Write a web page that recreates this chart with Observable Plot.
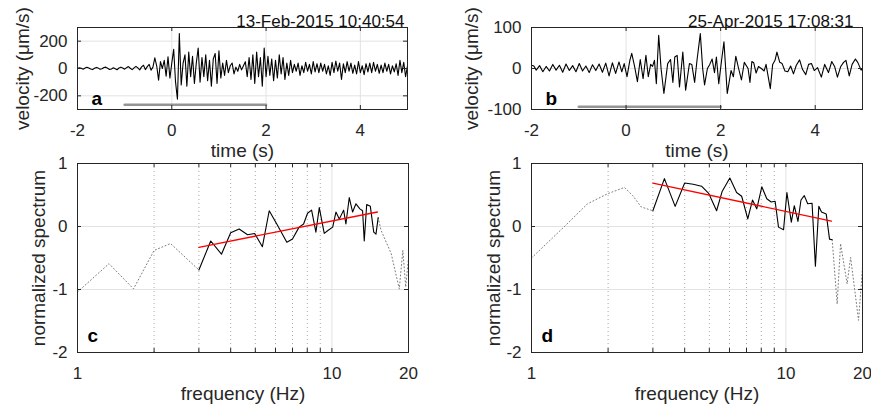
<!DOCTYPE html>
<html><head><meta charset="utf-8">
<script src="https://cdn.jsdelivr.net/npm/d3@7"></script>
<script src="https://cdn.jsdelivr.net/npm/@observablehq/plot@0.6"></script>
<style>
html,body{margin:0;padding:0;background:#fff;}
#wrap{position:relative;width:871px;height:410px;overflow:hidden;background:#fff;}
#wrap svg{position:absolute;}
</style></head><body><div id="wrap"></div>
<script>
// ---------- panel a : waveform, 13-Feb-2015 (sampled every 0.04 s from -2 s) ----------
const velA = [
  0, 6, 2, -5, 3, 9, 4, -4, -8, 2, 8, 3, -6, -2, 7, 10, 2, -7, -3, 5,
  -2, -9, 4, 10, 3, -5, 6, 14, 2, -8, 5, 16, 4, -10, 12, 24, -8, 14, 30, -12,
  10, 78, 20, -85, 50, 0, 60, -57, 85, -70, 40, 140, -100, -225, 255, -120, 40, 100, -130, 120,
  -60, 90, -110, 40, 150, -100, 80, -60, 100, -90, 60, -130, 70, 110, -110, 130, -70, 40, -50, 60,
  -30, 20, 40, -40, 10, -20, 30, -10, 20, 50, -60, 80, -80, 100, -110, 120, -60, 80, -130, 150,
  -60, 90, -50, 70, -90, 60, -70, 100, -40, 80, -80, 40, -50, 60, -30, 30, -20, 40, -50, 20,
  -30, 45, -20, 30, -40, 50, -25, 35, -30, 40, -20, 30, -40, 20, -50, 45, -30, 55, -20, 40,
  -80, 35, -30, 50, -20, 40, -35, 25, -40, 50, -30, 20, -45, 35, -25, 40, -30, 45, -20, 30,
  -35, 25, -30, 40, -20, 30, -40, 20, -25, 35, -50, 60, -30, 45, -60, 20
];
const sampleStepA = 0.04;
const timeA = velA.map((_, i) => -2 + i * sampleStepA);

// ---------- panel b : waveform, 25-Apr-2015 ----------
const timeB = [-2.00,-1.95,-1.90,-1.83,-1.76,-1.69,-1.62,-1.55,-1.48,-1.41,-1.34,-1.27,-1.20,-1.13,-1.06,-0.99,-0.92,-0.85,-0.78,-0.71,
  -0.64,-0.57,-0.50,-0.43,-0.36,-0.29,-0.22,-0.15,-0.09,-0.04,0.02,0.08,0.12,0.18,0.24,0.30,0.36,0.42,0.47,0.52,
  0.56,0.60,0.64,0.69,0.74,0.80,0.88,0.94,0.99,1.03,1.08,1.13,1.20,1.26,1.30,1.34,1.39,1.45,1.50,1.57,
  1.62,1.66,1.72,1.77,1.82,1.87,1.91,1.96,2.02,2.07,2.14,2.22,2.27,2.32,2.38,2.44,2.50,2.58,2.62,2.66,
  2.70,2.75,2.80,2.86,2.92,2.96,3.05,3.10,3.15,3.19,3.25,3.30,3.36,3.42,3.48,3.54,3.60,3.67,3.73,3.80,
  3.86,3.92,3.98,4.05,4.13,4.20,4.28,4.35,4.41,4.47,4.54,4.60,4.65,4.72,4.78,4.85,4.90,4.97,5.00];
const velB = [8,6,-4,7,-8,5,-6,10,-4,8,-9,11,-5,7,-8,12,-6,6,-10,9,
  -5,11,-9,13,-18,14,-12,16,-8,12,-20,20,37,5,-32,22,-25,32,-20,10,
  5,20,-37,81,0,-61,12,22,-34,28,32,-45,40,-53,-20,12,10,-34,20,85,
  0,-40,0,10,23,-10,28,-37,20,65,-61,-5,-20,30,0,-28,15,0,-34,17,
  14,-11,5,0,-6,10,-49,10,20,40,15,12,-6,-8,6,-13,8,21,-2,-15,
  10,12,-5,2,-21,10,-10,17,5,-21,5,15,20,-18,10,23,15,-4,0];

// analysis window (grey bar)
const windowTime = [-1, 2];
const windowLevelA = [-265, -265];
const windowLevelB = [-93, -93];

// ---------- panel c : spectrum ----------
const freqCLow = [1, 1.33, 1.66, 2.0, 2.32, 3.0];
const specCLow = [-1.04, -0.59, -0.99, -0.38, -0.27, -0.69];
const freqC = [3.0,3.34,3.68,4.0,4.32,4.66,4.97,5.33,5.67,6.11,6.65,7.0,7.43,7.74,8.02,8.32,8.65,8.92,9.33,9.67,10.07,10.37,10.69,11.12,11.35,11.7,12.06,12.43,12.88,13.2,13.4,13.7,14.16,14.6,14.9,15.2];
const specC = [-0.69,-0.23,-0.44,-0.10,-0.04,-0.13,-0.11,-0.32,0.25,0.02,-0.25,-0.20,-0.01,0.04,0.21,0.26,-0.09,0.30,-0.11,-0.06,-0.01,0.23,0.12,0.26,0.04,0.46,0.23,0.36,0.28,0.25,-0.23,0.35,0.32,-0.09,-0.12,0.14];
const freqCHigh = [15.2, 15.6, 17.1, 18.4, 19.0, 19.5, 20];
const specCHigh = [0.14, -0.06, -0.43, -0.99, -0.38, -0.96, -0.5];

// ---------- panel d : spectrum ----------
const freqDLow = [1, 1.34, 1.66, 1.99, 2.32, 2.5, 2.7, 3.0];
const specDLow = [-0.5, -0.01, 0.36, 0.52, 0.62, 0.49, 0.31, 0.25];
const freqD = [3.0,3.33,3.67,4.0,4.32,4.66,4.98,5.34,5.62,6.02,6.4,6.7,7.08,7.39,7.68,8.04,8.41,8.75,9.07,9.35,9.79,10.09,10.5,10.79,11.15,11.46,11.81,12.18,12.67,13.06,13.47,13.8,14.4,14.84,15.2];
const specD = [0.25,0.76,0.32,0.69,0.67,0.64,0.52,0.25,0.56,0.77,0.54,0.48,0.12,0.42,0.28,0.63,0.44,0.39,0.40,-0.01,-0.05,0.54,0.07,0.33,0.08,0.42,0.49,0.36,0.37,-0.63,0.32,0.23,0.20,-0.20,-0.21];
const freqDHigh = [15.2, 15.9, 16.4, 17.4, 17.96, 19.3, 20];
const specDHigh = [-0.21, -1.23, -0.27, -0.91, -0.49, -1.49, -0.65];

// fitted lines (straight in log-frequency)
const fitFreq = [3, 15.1];
const fitC = [-0.33, 0.23];
const fitD = [0.69, 0.085];

// ticks & labels
const timeTicks = [-2, 0, 2, 4];
const velTicksA = [-200, 0, 200];
const velTicksB = [-100, 0, 100];
const specTicks = [-2, -1, 0, 1];
const freqLabels = [1, 10, 20];
const freqMinor = [2, 3, 4, 5, 6, 7, 8, 9];
const dateA = "13-Feb-2015 10:40:54";
const dateB = "25-Apr-2015 17:08:31";

// ---------- drawing ----------
const FONT = '"Liberation Sans", Arial, Helvetica, sans-serif';
const INK = "#262626";
const GRID = "#e2e2e2";
const wrap = document.getElementById("wrap");
const fmt = d => String(d);

function panel(cfg) {
  const {left, top, width, height, ml, mr, mt, mb} = cfg;
  const fw = width - ml - mr, fh = height - mt - mb, TL = 4;
  const marks = [
    Plot.ruleX(cfg.xGrid, {x: d => d, stroke: GRID}),
    Plot.ruleY(cfg.yGrid, {y: d => d, stroke: GRID})
  ];
  if (cfg.xMinor) marks.push(Plot.ruleX(cfg.xMinor, {x: d => d, stroke: "#a8a8a8", strokeDasharray: "1,3"}));
  marks.push(...cfg.data);
  const xt = cfg.xTickMarks, yt = cfg.yTickMarks;
  marks.push(
    Plot.tickX(xt, {x: d => d, stroke: INK, insetTop: fh - TL}),
    Plot.tickX(xt, {x: d => d, stroke: INK, insetBottom: fh - TL}),
    Plot.tickY(yt, {y: d => d, stroke: INK, insetRight: fw - TL}),
    Plot.tickY(yt, {y: d => d, stroke: INK, insetLeft: fw - TL}),
    Plot.frame({stroke: INK}),
    Plot.axisX({ticks: cfg.xLabels, tickSize: 0, tickPadding: 14, tickFormat: fmt, fontSize: 17, label: null, fill: INK}),
    Plot.axisY({ticks: yt, tickSize: 0, tickPadding: 10, tickFormat: fmt, fontSize: 17, label: null, fill: INK}),
    Plot.text([cfg.xTitle], {text: d => d, frameAnchor: "bottom", textAnchor: "middle", lineAnchor: "top", dy: 34, fontSize: 19, fill: INK}),
    Plot.text([cfg.yTitle], {text: d => d, frameAnchor: "left", textAnchor: "middle", lineAnchor: "bottom", rotate: -90, dx: cfg.yTitleDx, fontSize: 19, fill: INK}),
    Plot.text([cfg.letter], {text: d => d, frameAnchor: "bottom-left", textAnchor: "start", lineAnchor: "bottom", dx: cfg.letterDx, dy: cfg.letterDy, fontSize: 19, fontWeight: "bold", fill: "#000"})
  );
  if (cfg.date) marks.push(Plot.text([cfg.date], {text: d => d, frameAnchor: "top-right", textAnchor: "end", lineAnchor: "bottom", dx: cfg.dateDx, dy: -1, fontSize: 17, fill: "#111"}));
  const svg = Plot.plot({
    width, height, marginLeft: ml, marginRight: mr, marginTop: mt, marginBottom: mb,
    x: cfg.x, y: cfg.y,
    style: {fontFamily: FONT, background: "none", overflow: "visible", color: INK},
    marks
  });
  svg.style.left = left + "px";
  svg.style.top = top + "px";
  wrap.appendChild(svg);
}

const blackLine = (xs, ys) => Plot.line(xs, {x: xs, y: ys, stroke: "#000", strokeWidth: 1.1});
const dotLine = (xs, ys) => Plot.line(xs, {x: xs, y: ys, stroke: "#7a7a7a", strokeWidth: 1, strokeDasharray: "1,2.5"});
const redLine = (xs, ys) => Plot.line(xs, {x: xs, y: ys, stroke: "#ff0000", strokeWidth: 1.3});
const greyBar = (xs, ys) => Plot.line(xs, {x: xs, y: ys, stroke: "#949494", strokeWidth: 2.5});

panel({
  left: 0, top: 0, width: 440, height: 165, ml: 77, mr: 33, mt: 27, mb: 56,
  x: {domain: [-2, 5]}, y: {domain: [-300, 300]},
  xGrid: [0, 2, 4], yGrid: velTicksA, xTickMarks: timeTicks, yTickMarks: velTicksA, xLabels: timeTicks,
  data: [blackLine(timeA, velA), greyBar(windowTime, windowLevelA)],
  xTitle: "time (s)", yTitle: "velocity (μm/s)", yTitleDx: -49,
  letter: "a", letterDx: 14, letterDy: -5, date: dateA, dateDx: -3
});
panel({
  left: 440, top: 0, width: 431, height: 165, ml: 91, mr: 9, mt: 27, mb: 56,
  x: {domain: [-2, 5]}, y: {domain: [-100, 100]},
  xGrid: [0, 2, 4], yGrid: [0], xTickMarks: timeTicks, yTickMarks: velTicksB, xLabels: timeTicks,
  data: [blackLine(timeB, velB), greyBar(windowTime, windowLevelB)],
  xTitle: "time (s)", yTitle: "velocity (μm/s)", yTitleDx: -54,
  letter: "b", letterDx: 14, letterDy: -5, date: dateB, dateDx: -9
});
panel({
  left: 0, top: 150, width: 440, height: 260, ml: 77, mr: 32, mt: 13, mb: 58,
  x: {type: "log", domain: [1, 20]}, y: {domain: [-2, 1]},
  xGrid: [10], yGrid: [0, -1], xMinor: freqMinor, xTickMarks: [...freqMinor, 10, 20], yTickMarks: specTicks, xLabels: freqLabels,
  data: [dotLine(freqCLow, specCLow), dotLine(freqCHigh, specCHigh), blackLine(freqC, specC), redLine(fitFreq, fitC)],
  xTitle: "frequency (Hz)", yTitle: "normalized spectrum", yTitleDx: -33,
  letter: "c", letterDx: 10, letterDy: -11
});
panel({
  left: 440, top: 150, width: 431, height: 260, ml: 91, mr: 9, mt: 13, mb: 58,
  x: {type: "log", domain: [1, 20]}, y: {domain: [-2, 1]},
  xGrid: [10], yGrid: [0, -1], xMinor: freqMinor, xTickMarks: [...freqMinor, 10, 20], yTickMarks: specTicks, xLabels: freqLabels,
  data: [dotLine(freqDLow, specDLow), dotLine(freqDHigh, specDHigh), blackLine(freqD, specD), redLine(fitFreq, fitD)],
  xTitle: "frequency (Hz)", yTitle: "normalized spectrum", yTitleDx: -32,
  letter: "d", letterDx: 10, letterDy: -11
});
</script>
</body></html>
